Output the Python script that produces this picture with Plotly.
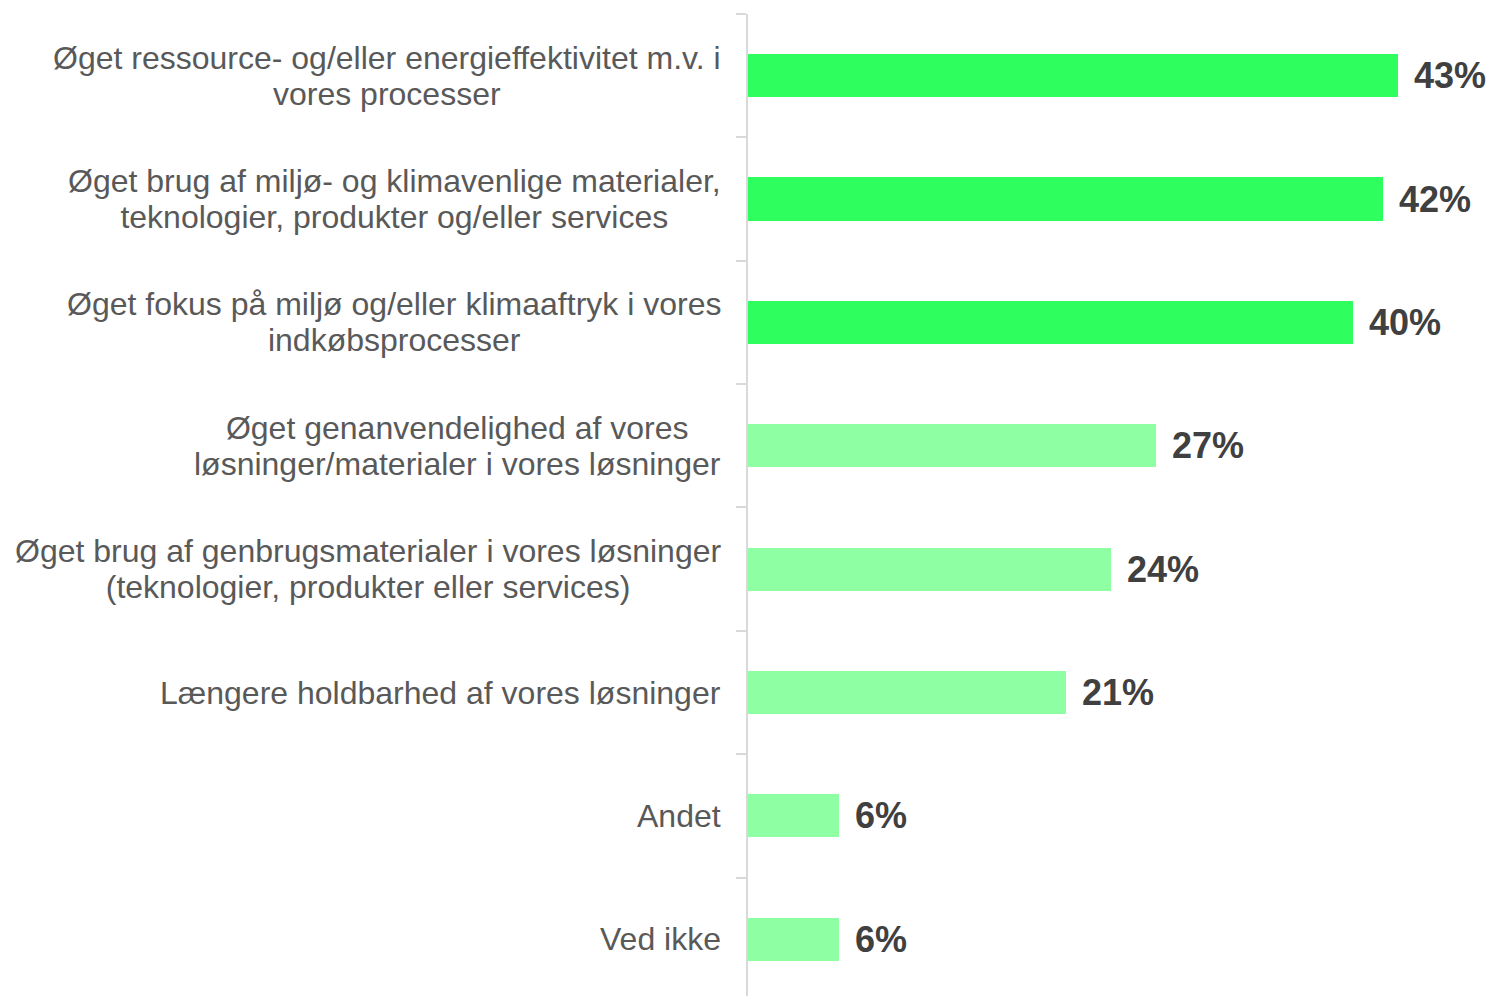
import plotly.graph_objects as go

categories = [
    "Øget ressource- og/eller energieffektivitet m.v. i<br>vores processer",
    "Øget brug af miljø- og klimavenlige materialer,<br>teknologier, produkter og/eller services",
    "Øget fokus på miljø og/eller klimaaftryk i vores<br>indkøbsprocesser",
    "Øget genanvendelighed af vores<br>løsninger/materialer i vores løsninger",
    "Øget brug af genbrugsmaterialer i vores løsninger<br>(teknologier, produkter eller services)",
    "Længere holdbarhed af vores løsninger",
    "Andet",
    "Ved ikke",
]
values = [43, 42, 40, 27, 24, 21, 6, 6]
value_labels = ["43%", "42%", "40%", "27%", "24%", "21%", "6%", "6%"]
highlight = [True, True, True, False, False, False, False, False]

DARK = "#2EFF5E"
LIGHT = "#8FFFA3"
colors = [DARK if h else LIGHT for h in highlight]
ids = list(range(len(categories)))

fig = go.Figure(go.Bar(
    x=values, y=ids, orientation="h",
    marker=dict(color=colors, line=dict(width=0)),
    width=0.35, hoverinfo="skip",
))

annotations = []
for i, (cat, v, lab) in enumerate(zip(categories, values, value_labels)):
    styled = "<br>".join('<span style="font-size:32px">%s</span>' % s for s in cat.split("<br>"))
    annotations.append(dict(
        x=0, xref="paper", y=i, yref="y", text=styled, showarrow=False,
        xanchor="right", yanchor="middle", align="center", xshift=-25,
        font=dict(family="Liberation Sans, Arial, sans-serif", size=27.7, color="#595959"),
    ))
    annotations.append(dict(
        x=v, xref="x", y=i, yref="y", text="<b>" + lab + "</b>", showarrow=False,
        xanchor="left", yanchor="middle", xshift=14,
        font=dict(family="Liberation Sans, Arial, sans-serif", size=36, color="#404040"),
    ))

fig.update_layout(
    width=1486, height=988,
    margin=dict(l=740, r=5, t=6, b=0, pad=0),
    paper_bgcolor="white", plot_bgcolor="white",
    showlegend=False,
    xaxis=dict(range=[0, 49], visible=False, fixedrange=True),
    yaxis=dict(
        type="linear", range=[7.46, -0.5], showticklabels=False,
        tickmode="array", tickvals=[i - 0.5 for i in range(9)],
        ticks="outside", ticklen=10, tickcolor="#D9D9D9", tickwidth=1.5,
        showline=True, linecolor="#D9D9D9", linewidth=1.5,
        showgrid=False, zeroline=False, fixedrange=True,
    ),
    annotations=annotations,
    bargap=0,
)

fig.write_html("out.html")
